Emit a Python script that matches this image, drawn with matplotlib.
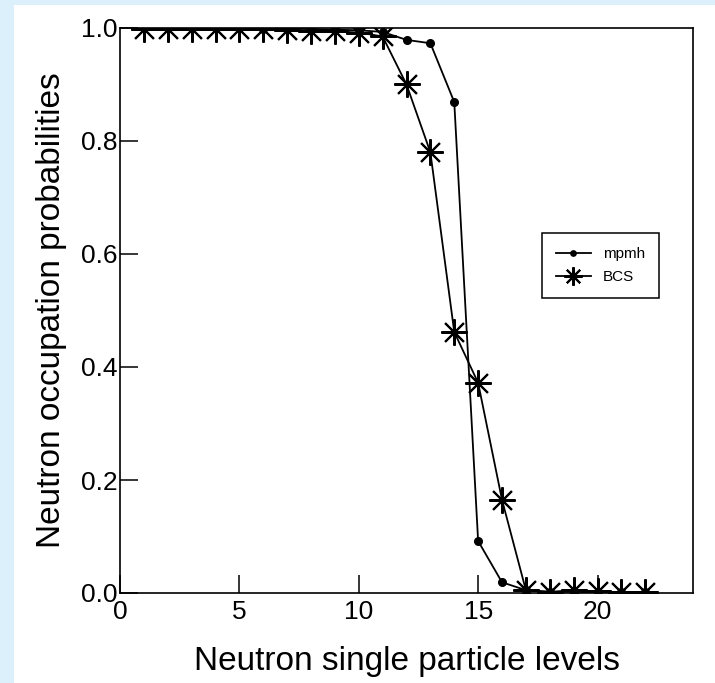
import matplotlib.pyplot as plt
from matplotlib.patches import Rectangle

plt.rcParams['font.family'] = ['Liberation Sans', 'DejaVu Sans']

levels = list(range(1, 23))

mpmh = [1.0, 1.0, 1.0, 1.0, 1.0, 0.999, 0.999, 0.998, 0.997, 0.996, 0.993,
        0.979, 0.973, 0.869, 0.092, 0.019, 0.005, 0.002, 0.002, 0.001, 0.001, 0.001]
bcs = [0.999, 0.999, 0.999, 0.999, 0.998, 0.998, 0.997, 0.995, 0.994, 0.992, 0.985,
       0.900, 0.780, 0.462, 0.372, 0.165, 0.005, 0.002, 0.005, 0.003, 0.001, 0.002]

fig = plt.figure(figsize=(7.15, 6.83), dpi=100, facecolor='#dcf0fb')
# white page area over the light blue backdrop
fig.patches.append(Rectangle((14 / 715, 0), 1, (683 - 5) / 683,
                             transform=fig.transFigure, facecolor='white',
                             edgecolor='none', zorder=-1))

ax = fig.add_axes([120 / 715, 90 / 683, 573 / 715, 565 / 683])

ax.plot(levels, mpmh, color='black', lw=1.3, marker='o', ms=5.5,
        label='mpmh')
ax.plot(levels, bcs, color='black', lw=1.3, marker=(8, 2, 0), ms=19,
        mew=1.5, label='BCS')

ax.set_xlim(0, 24)
ax.set_ylim(0, 1.0)
ax.set_xticks([0, 5, 10, 15, 20])
ax.set_yticks([0.0, 0.2, 0.4, 0.6, 0.8, 1.0])
ax.set_yticklabels(['0.0', '0.2', '0.4', '0.6', '0.8', '1.0'])
ax.tick_params(direction='in', length=13, width=1.1, labelsize=19,
               top=False, right=False)
ax.tick_params(axis='x', pad=5)
ax.tick_params(axis='y', pad=2)
for s in ax.spines.values():
    s.set_linewidth(1.2)

ax.set_xlabel('Neutron single particle levels', fontsize=24, labelpad=16)
ax.set_ylabel('Neutron occupation probabilities', fontsize=24, labelpad=10)

leg = ax.legend(loc='upper left', bbox_to_anchor=(0.723, 0.65),
                fontsize=11, frameon=True, fancybox=False, edgecolor='black',
                handlelength=2.3, markerscale=0.7, borderpad=0.9,
                labelspacing=0.6, framealpha=1)
leg.get_frame().set_linewidth(1.1)

fig.savefig('out.png', dpi=100, facecolor=fig.get_facecolor())
